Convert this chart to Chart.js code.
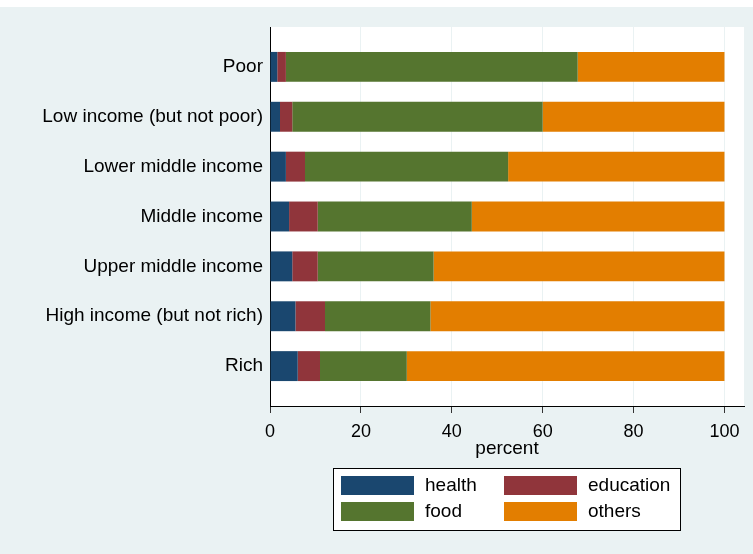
<!DOCTYPE html>
<html>
<head>
<meta charset="utf-8">
<script src="https://cdn.jsdelivr.net/npm/chart.js@4"></script>
<style>
  html, body { margin: 0; padding: 0; background: #ffffff; }
  #wrap { position: absolute; left: 0; top: 7px; width: 753px; height: 547px; }
</style>
</head>
<body>
<div id="wrap"><canvas id="chart" width="753" height="547"></canvas></div>
<script>
// categories (top to bottom)
const groups = ['Poor', 'Low income (but not poor)', 'Lower middle income', 'Middle income',
    'Upper middle income', 'High income (but not rich)', 'Rich'];

// shares in percent
const health    = [1.6, 2.2, 3.5, 4.2, 4.9, 5.6, 6.1];
const education = [1.9, 2.7, 4.2, 6.3, 5.6, 6.5, 4.9];
const food      = [64.2, 55.1, 44.7, 33.9, 25.5, 23.2, 19.1];
const others    = [32.3, 40.0, 47.6, 55.6, 64.0, 64.7, 69.9];

const xTicks = [0, 20, 40, 60, 80, 100];

const fontName = '"Liberation Sans", Arial, sans-serif';

// outer background and white plot region
const bgPlugin = {
    id: 'bg',
    beforeDraw(chart) {
        const c = chart.ctx, a = chart.chartArea;
        c.save();
        c.fillStyle = '#eaf2f3';
        c.fillRect(0, 0, chart.width, chart.height);
        c.fillStyle = '#ffffff';
        c.fillRect(a.left, a.top, a.right - a.left, a.bottom - a.top);
        c.restore();
    }
};

// legend as a two-column box under the axis
const boxLegend = {
    id: 'boxLegend',
    afterDraw(chart) {
        const c = chart.ctx, a = chart.chartArea;
        const cx = (a.left + a.right) / 2;
        const left = cx - 174, top = a.bottom + 62;
        c.save();
        c.fillStyle = '#ffffff';
        c.fillRect(left, top, 347, 62);
        c.strokeStyle = '#000000';
        c.lineWidth = 1;
        c.strokeRect(left + 0.5, top + 0.5, 347, 62);
        c.font = '19px ' + fontName;
        c.textBaseline = 'middle';
        chart.data.datasets.forEach((ds, i) => {
            const col = i % 2, row = Math.floor(i / 2);
            const sx = left + 8 + col * 163;
            const sy = top + 8 + row * 26;
            c.fillStyle = ds.backgroundColor;
            c.fillRect(sx, sy, 73, 19);
            c.fillStyle = '#000';
            c.fillText(ds.label, sx + 84, sy + 10);
        });
        c.restore();
    }
};

new Chart(document.getElementById('chart'), {
    type: 'bar',
    data: {
        labels: groups.map((g, i) => i),
        datasets: [
            { label: 'health', data: health, backgroundColor: '#1a476f' },
            { label: 'education', data: education, backgroundColor: '#90353b' },
            { label: 'food', data: food, backgroundColor: '#55752f' },
            { label: 'others', data: others, backgroundColor: '#e37e00' }
        ]
    },
    options: {
        indexAxis: 'y',
        responsive: false,
        animation: false,
        categoryPercentage: 0.6,
        barPercentage: 1,
        layout: { padding: { top: 20, right: 9, left: 0, bottom: 92 } },
        plugins: {
            legend: { display: false },
            tooltip: { enabled: false }
        },
        scales: {
            y: {
                type: 'linear',
                stacked: true,
                reverse: true,
                offset: false,
                min: -0.8,
                max: 6.8,
                afterFit: s => { s.width = 270; },
                grid: { display: false, drawTicks: false, offset: false },
                border: { display: true, color: '#000000', width: 1 },
                ticks: {
                    stepSize: 1,
                    includeBounds: false,
                    autoSkip: false,
                    padding: 7,
                    color: '#000000',
                    font: { family: fontName, size: 19 },
                    callback: v => groups[v] || ''
                }
            },
            x: {
                stacked: true,
                min: 0,
                max: 104.3,
                afterFit: s => { s.height = 56; },
                afterBuildTicks: s => { s.ticks = xTicks.map(v => ({ value: v })); },
                grid: {
                    color: '#eaf2f3',
                    lineWidth: 1,
                    tickColor: '#333333',
                    tickLength: 7
                },
                border: { display: true, color: '#000000', width: 1 },
                ticks: {
                    padding: 8,
                    color: '#000000',
                    font: { family: fontName, size: 18 }
                },
                title: {
                    display: true,
                    text: 'percent',
                    color: '#000000',
                    padding: { top: 0, bottom: 2 },
                    font: { family: fontName, size: 19 }
                }
            }
        }
    },
    plugins: [bgPlugin, boxLegend]
});
</script>
</body>
</html>
